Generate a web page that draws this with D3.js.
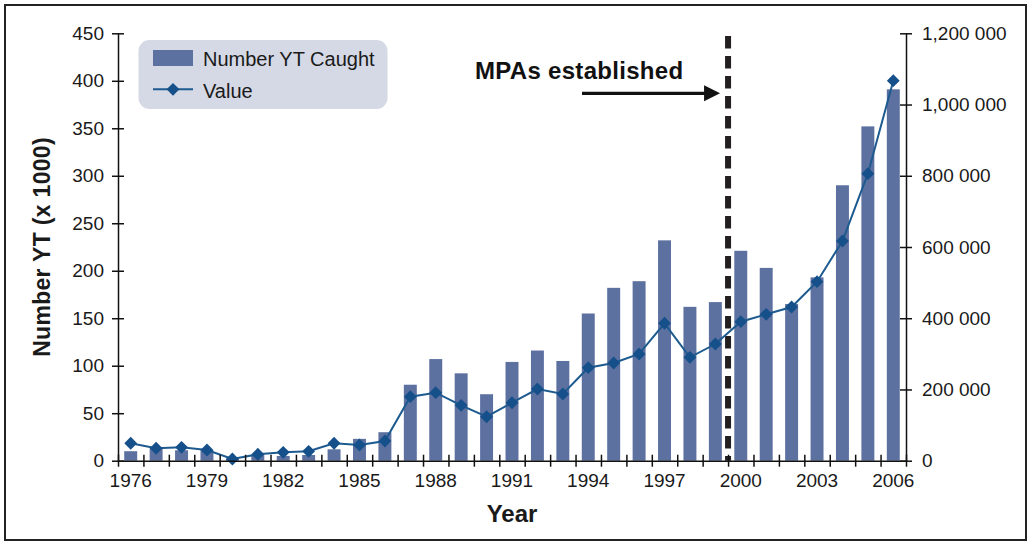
<!DOCTYPE html>
<html>
<head>
<meta charset="utf-8">
<script src="https://cdn.jsdelivr.net/npm/d3@7"></script>
<style>
  html, body { margin: 0; padding: 0; background: #fff; }
  svg { display: block; font-family: "Liberation Sans", Arial, sans-serif; }
</style>
</head>
<body>
<svg id="chart" width="1031" height="546"></svg>
<script>
// Yellowtail catch and value, 1976-2006
const years = [1976, 1977, 1978, 1979, 1980, 1981, 1982, 1983, 1984, 1985,
               1986, 1987, 1988, 1989, 1990, 1991, 1992, 1993, 1994, 1995,
               1996, 1997, 1998, 1999, 2000, 2001, 2002, 2003, 2004, 2005, 2006];
// Number caught (x 1000)
const caught = [10, 13, 11, 11, 2, 6, 5, 6, 12, 23,
                30, 80, 107, 92, 70, 104, 116, 105, 155, 182,
                189, 232, 162, 167, 221, 203, 165, 193, 290, 352, 391];
// Value of the catch
const value = [49000, 35000, 37600, 30000, 4800, 18000, 23600, 26400, 48900, 44100,
               55300, 179700, 190900, 155500, 123500, 162800, 201300, 187300, 261100, 274300,
               299600, 385800, 290300, 327600, 390300, 411000, 431500, 502600, 616800, 805800, 1066900];

const labelYears = [1976, 1979, 1982, 1985, 1988, 1991, 1994, 1997, 2000, 2003, 2006];
const leftTicks = [0, 50, 100, 150, 200, 250, 300, 350, 400, 450];
const rightTicks = [0, 200000, 400000, 600000, 800000, 1000000, 1200000];
const rightTickLabels = ["0", "200 000", "400 000", "600 000", "800 000", "1,000 000", "1,200 000"];
const mpaYear = 2000;

const W = 1031, H = 546;
const plot = { left: 118, right: 906, top: 33.3, bottom: 460.7 };

const barColor = "#5d71a0";
const lineColor = "#1d5a8f";
const markColor = "#15508a";
const axisColor = "#111";

const svg = d3.select("#chart");

// outer frame
svg.append("rect")
  .attr("x", 5).attr("y", 5).attr("width", W - 10).attr("height", H - 11)
  .attr("fill", "none").attr("stroke", "#222").attr("stroke-width", 2);

const x = d3.scaleBand().domain(years).range([plot.left, plot.right])
  .paddingInner(0.49).paddingOuter(0.245);
// category boundaries
const xi = d3.scaleLinear().domain([0, years.length]).range([plot.left, plot.right]);
const yL = d3.scaleLinear().domain([0, 450]).range([plot.bottom, plot.top]);
const yR = d3.scaleLinear().domain([0, 1200000]).range([plot.bottom, plot.top]);

// bars
svg.append("g").selectAll("rect").data(years).join("rect")
  .attr("x", d => x(d))
  .attr("width", x.bandwidth())
  .attr("y", (d, i) => yL(caught[i]))
  .attr("height", (d, i) => yL(0) - yL(caught[i]))
  .attr("fill", barColor);

// MPA marker line
const mpaX = xi(years.indexOf(mpaYear));
svg.append("line")
  .attr("x1", mpaX).attr("x2", mpaX)
  .attr("y1", 36).attr("y2", plot.bottom)
  .attr("stroke", "#231f20").attr("stroke-width", 6)
  .attr("stroke-dasharray", "12.5,7.5");

// value line
const cx = d => x(d) + x.bandwidth() / 2;
const line = d3.line().x((d, i) => cx(years[i])).y(d => yR(d));
svg.append("path").datum(value)
  .attr("d", line).attr("fill", "none")
  .attr("stroke", lineColor).attr("stroke-width", 2);

const diamond = d3.symbol().type(d3.symbolDiamond2).size(105);
svg.append("g").selectAll("path").data(value).join("path")
  .attr("transform", (d, i) => `translate(${cx(years[i])},${yR(d)})`)
  .attr("d", diamond)
  .attr("fill", markColor);

// axes
function styleAxis(g) {
  g.selectAll(".domain").attr("stroke", axisColor).attr("stroke-width", 1.5);
  g.selectAll(".tick line").attr("stroke", axisColor).attr("stroke-width", 1.5);
  g.selectAll("text").attr("fill", "#1a1a1a").attr("font-size", 19)
    .attr("font-family", "Liberation Sans, Arial, sans-serif");
}

const gL = svg.append("g").attr("transform", `translate(${plot.left},0)`)
  .call(d3.axisLeft(yL).tickValues(leftTicks).tickSize(6).tickPadding(8).tickSizeOuter(0))
  .call(styleAxis);
gL.selectAll(".tick line").attr("x1", 6);

const gR = svg.append("g").attr("transform", `translate(${plot.right},0)`)
  .call(d3.axisRight(yR).tickValues(rightTicks).tickSize(6).tickPadding(10).tickSizeOuter(0)
    .tickFormat((d, i) => rightTickLabels[i]))
  .call(styleAxis);
gR.selectAll(".tick line").attr("x1", -6);

// x axis: crossing ticks at category boundaries
const gX = svg.append("g").attr("transform", `translate(0,${plot.bottom})`)
  .call(d3.axisBottom(xi).tickValues(d3.range(0, years.length + 1)).tickSize(6).tickSizeOuter(0).tickFormat(""))
  .call(styleAxis);
gX.selectAll(".tick line").attr("y1", -6);

const gXL = svg.append("g").attr("transform", `translate(0,${plot.bottom})`)
  .call(d3.axisBottom(x).tickValues(labelYears).tickSize(0).tickPadding(13))
  .call(styleAxis);
gXL.select(".domain").remove();

// axis titles
svg.append("text")
  .attr("x", (plot.left + plot.right) / 2).attr("y", 522)
  .attr("text-anchor", "middle").attr("font-weight", "bold").attr("font-size", 24)
  .attr("fill", "#1a1a1a").text("Year");

svg.append("text")
  .attr("transform", `translate(50,${(plot.top + plot.bottom) / 2}) rotate(-90)`)
  .attr("text-anchor", "middle").attr("font-weight", "bold").attr("font-size", 23)
  .attr("letter-spacing", 0.3)
  .attr("fill", "#1a1a1a").text("Number YT (x 1000)");

// annotation
svg.append("text")
  .attr("x", 475).attr("y", 79)
  .attr("font-weight", "bold").attr("font-size", 24).attr("letter-spacing", 0.3).attr("fill", "#111")
  .text("MPAs established");
const arrowY = 93.3, tipX = mpaX - 8;
svg.append("line")
  .attr("x1", 582).attr("x2", tipX - 12).attr("y1", arrowY).attr("y2", arrowY)
  .attr("stroke", "#111").attr("stroke-width", 3.3);
svg.append("path")
  .attr("d", `M${tipX},${arrowY} L${tipX - 16},${arrowY - 8} L${tipX - 16},${arrowY + 8} Z`)
  .attr("fill", "#111");

// legend
const lg = svg.append("g");
lg.append("rect")
  .attr("x", 138.5).attr("y", 40).attr("width", 249).attr("height", 69).attr("rx", 11)
  .attr("fill", "#d5d9e5");
lg.append("rect")
  .attr("x", 153).attr("y", 50).attr("width", 40).attr("height", 16).attr("fill", barColor);
lg.append("text").attr("x", 203).attr("y", 65.5).attr("font-size", 20).attr("fill", "#1a1a1a")
  .text("Number YT Caught");
lg.append("line").attr("x1", 153).attr("x2", 193).attr("y1", 89.3).attr("y2", 89.3)
  .attr("stroke", lineColor).attr("stroke-width", 2);
lg.append("path").attr("transform", "translate(173,89.3)").attr("d", diamond).attr("fill", markColor);
lg.append("text").attr("x", 203).attr("y", 97.5).attr("font-size", 20).attr("fill", "#1a1a1a")
  .text("Value");
</script>
</body>
</html>
